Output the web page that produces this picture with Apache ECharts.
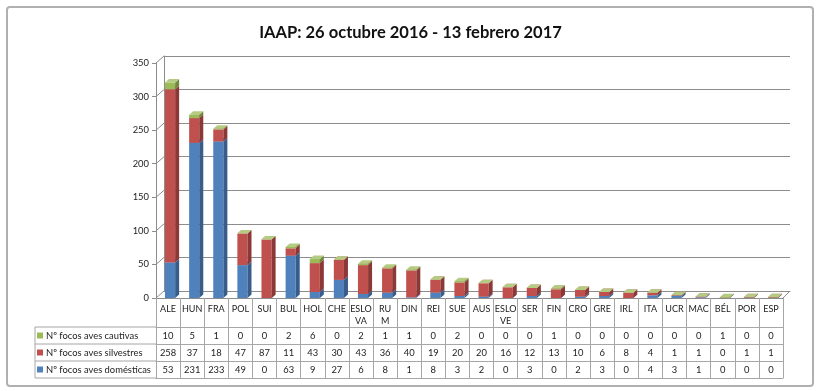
<!DOCTYPE html>
<html><head><meta charset="utf-8">
<script src="https://cdn.jsdelivr.net/npm/echarts@6/dist/echarts.min.js"></script>
<style>html,body{margin:0;padding:0;background:#fff}#c{width:821px;height:391px}</style>
</head><body><div id="c"></div>
<script>
const categories = ['ALE','HUN','FRA','POL','SUI','BUL','HOL','CHE','ESLO\nVA','RU\nM','DIN','REI','SUE','AUS','ESLO\nVE','SER','FIN','CRO','GRE','IRL','ITA','UCR','MAC','BÉL','POR','ESP'];
const cautivas   = [10,5,1,0,0,2,6,0,2,1,1,0,2,0,0,0,1,0,0,0,0,0,0,1,0,0];
const silvestres = [258,37,18,47,87,11,43,30,43,36,40,19,20,20,16,12,13,10,6,8,4,1,1,0,1,1];
const domesticas = [53,231,233,49,0,63,9,27,6,8,1,8,3,2,0,3,0,2,3,0,4,3,1,0,0,0];
const yTicks = [0,50,100,150,200,250,300,350];
const nameDom = 'Nº focos aves domésticas';
const nameSil = 'Nº focos aves silvestres';
const nameCau = 'Nº focos aves cautivas';
const titleText = 'IAAP: 26 octubre 2016 - 13 febrero 2017';

// font selection: prefer a narrow sans (close to Calibri widths), else Lato
const ctx = document.createElement('canvas').getContext('2d');
function measure(text, family, size, weight){ ctx.font = (weight||'normal') + ' ' + size + 'px ' + family; return ctx.measureText(text).width; }
function hasFont(f){
  const s = 'abcdefghijklmnopqrstuvwxyz0123456789ABCDEFG';
  return measure(s, 'monospace', 20) !== measure(s, "'" + f + "', monospace", 20);
}
const FAM = hasFont('Liberation Sans Narrow') ? "'Liberation Sans Narrow'" : 'Lato';
const TFAM = 'Lato';
function fit(text, family, weight, target){ return 20 * target / measure(text, family, 20, weight); }
const titleSize = Math.min(19, fit(titleText, TFAM, 'bold', 303));
const legSize = Math.min(12, fit(nameDom, FAM, 'normal', 105));
const k = legSize / 11;
const valSize = 11 * k, catSize = 10.6 * k;

const colDom = ['#4F81BD', '#385D8A', '#7BA0CD'];
const colSil = ['#C0504D', '#8C3836', '#D07C7A'];
const colCau = ['#9BBB59', '#71893F', '#B3CC82'];

function stackData(vals, bases){ return vals.map((v, i) => [i, bases ? bases[i] : 0, v]); }
const baseSil = domesticas.slice();
const baseCau = domesticas.map((d, i) => d + silvestres[i]);

function make3D(colors){
  return function(params, api){
    const i = api.value(0), base = api.value(1), v = api.value(2);
    const c = api.coord([i, base]);
    const t = api.coord([i, base + v]);
    const band = api.size([1, 0])[0];
    const w = band * 0.42, dx = 4, dy = 3.5;
    const x0 = c[0] - w * 0.3, x1 = x0 + w;
    const ch = [];
    if (v > 0) {
      ch.push({type:'rect', shape:{x:x0, y:t[1], width:w, height:c[1]-t[1]}, style:{fill:colors[0]}});
      ch.push({type:'polygon', shape:{points:[[x1,t[1]],[x1+dx,t[1]-dy],[x1+dx,c[1]-dy],[x1,c[1]]]}, style:{fill:colors[1]}});
    }
    ch.push({type:'polygon', shape:{points:[[x0,t[1]],[x0+dx,t[1]-dy],[x1+dx,t[1]-dy],[x1,t[1]]]}, style:{fill:colors[2]}});
    return {type:'group', children: ch};
  };
}

const gridLine = '#8c8c8c';
const tableLine = '#a6a6a6';
const rowOffsets = [29, 46, 63];
const rowArrays = [cautivas, silvestres, domesticas];
const rowNames = [nameCau, nameSil, nameDom];

const xAxes = [
  {type:'category', gridIndex:0, data:categories, boundaryGap:true,
   axisLine:{show:true, lineStyle:{color:gridLine}},
   axisTick:{show:true, interval:0, length:29, alignWithLabel:false, lineStyle:{color:tableLine}},
   axisLabel:{interval:0, margin:5, verticalAlign:'top', fontSize:catSize, lineHeight:12, color:'#222', fontFamily:FAM}},
  {type:'category', gridIndex:1, data:categories, boundaryGap:true,
   axisLine:{show:true, lineStyle:{color:gridLine}}, axisTick:{show:false}, axisLabel:{show:false}}
];
rowOffsets.forEach((off, r) => {
  const arr = rowArrays[r];
  xAxes.push({type:'category', gridIndex:0, data:categories, position:'bottom', offset:off, boundaryGap:true,
    axisLine:{show:true, lineStyle:{color:tableLine}},
    axisTick:{show:true, interval:0, length:17, alignWithLabel:false, lineStyle:{color:tableLine}},
    axisLabel:{interval:0, margin:8.5, verticalAlign:'middle', fontSize:valSize, color:'#222', fontFamily:FAM,
      formatter:(val, idx) => String(arr[idx])}});
});
xAxes.push({type:'category', gridIndex:0, data:categories, position:'bottom', offset:80,
  axisLine:{show:true, lineStyle:{color:tableLine}}, axisTick:{show:false}, axisLabel:{show:false}});

const chart = echarts.init(document.getElementById('c'), null, {renderer:'canvas'});
const yBaseGuess = 298;
const legends = rowNames.map((n, r) => ({
  orient:'vertical', left:37, top: yBaseGuess + rowOffsets[r] + 8.5 - 7, padding:0, itemGap:0,
  itemWidth:6, itemHeight:6, icon:'rect', data:[n],
  textStyle:{fontSize:legSize, lineHeight:14, color:'#222', fontFamily:FAM, padding:[0,0,0,-2]}
}));
const option = {
  animation:false,
  textStyle:{fontFamily:FAM},
  title:{text:titleText, left:'center', top:19,
    textStyle:{fontFamily:TFAM, fontSize:titleSize, fontWeight:'bold', color:'#111'}},
  legend:legends,
  grid:[
    {left:156, right:38, top:63, bottom:93},
    {left:164, right:31, top:56, bottom:100}
  ],
  xAxis:xAxes,
  yAxis:[
    {type:'value', gridIndex:0, min:0, max:350, interval:50,
     axisLine:{show:true, lineStyle:{color:gridLine}},
     axisTick:{show:true, length:4, lineStyle:{color:gridLine}},
     splitLine:{show:false},
     axisLabel:{margin:7, fontSize:valSize, color:'#222', fontFamily:FAM}},
    {type:'value', gridIndex:1, min:0, max:350, interval:50,
     axisLine:{show:true, lineStyle:{color:gridLine}},
     axisTick:{show:false}, axisLabel:{show:false},
     splitLine:{show:true, lineStyle:{color:gridLine}}}
  ],
  series:[
    {type:'custom', name:nameDom, xAxisIndex:0, yAxisIndex:0, itemStyle:{color:colDom[0]},
     renderItem:make3D(colDom), encode:{x:0, y:[1,2]}, data:stackData(domesticas)},
    {type:'custom', name:nameSil, xAxisIndex:0, yAxisIndex:0, itemStyle:{color:colSil[0]},
     renderItem:make3D(colSil), encode:{x:0, y:[1,2]}, data:stackData(silvestres, baseSil)},
    {type:'custom', name:nameCau, xAxisIndex:0, yAxisIndex:0, itemStyle:{color:colCau[0]},
     renderItem:make3D(colCau), encode:{x:0, y:[1,2]}, data:stackData(cautivas, baseCau)}
  ]
};
chart.setOption(option);

// decorations: outer border, 3D wall diagonals, legend column borders
const gfx = [];
gfx.push({type:'rect', shape:{x:7, y:7, width:806, height:379, r:3}, style:{fill:null, stroke:'#b0b0b0', lineWidth:2}, silent:true, z:-1});
yTicks.forEach(v => {
  const y = chart.convertToPixel({yAxisIndex:0}, v);
  gfx.push({type:'line', shape:{x1:156, y1:y, x2:164, y2:y-7}, style:{stroke:gridLine, lineWidth:1}, silent:true});
});
const yBase = chart.convertToPixel({yAxisIndex:0}, 0);
gfx.push({type:'line', shape:{x1:783, y1:yBase, x2:790, y2:yBase-7}, style:{stroke:gridLine, lineWidth:1}, silent:true});
[0, 17, 34, 51].forEach(d => {
  const y = yBase + 29 + d;
  gfx.push({type:'line', shape:{x1:35, y1:y, x2:156, y2:y}, style:{stroke:tableLine, lineWidth:1}, silent:true});
});
gfx.push({type:'line', shape:{x1:35, y1:yBase+29, x2:35, y2:yBase+80}, style:{stroke:tableLine, lineWidth:1}, silent:true});
chart.setOption({graphic:gfx});
</script>
</body></html>
